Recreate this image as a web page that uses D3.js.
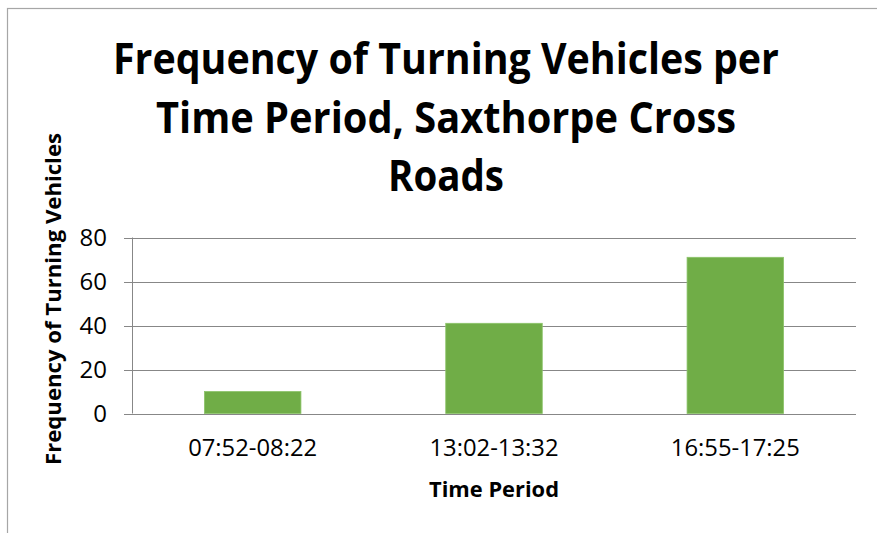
<!DOCTYPE html>
<html>
<head>
<meta charset="utf-8">
<script src="https://cdn.jsdelivr.net/npm/d3@7"></script>
<style>
  html, body { margin: 0; padding: 0; background: #fff; }
  svg { display: block; }
  text { font-family: "Open Sans", "Noto Sans", sans-serif; fill: #000; }
</style>
</head>
<body>
<svg id="chart" width="877" height="533"></svg>
<script>
// ---- data ----
const categories = ["07:52-08:22", "13:02-13:32", "16:55-17:25"];
const values = [10, 41, 71];
const yTicks = [0, 20, 40, 60, 80];
const titleLines = ["Frequency of Turning Vehicles per", "Time Period, Saxthorpe Cross", "Roads"];
const titleWidths = [666, 580, 116];
const xTitle = "Time Period";
const yTitle = "Frequency of Turning Vehicles";

// ---- layout ----
const plot = { left: 132, right: 856, top: 237.5, bottom: 413.5 };
const svg = d3.select("#chart");

// outer frame (cropped at right/bottom)
svg.append("rect")
  .attr("x", 7.5).attr("y", 8.5)
  .attr("width", 1000).attr("height", 1000)
  .attr("fill", "none").attr("stroke", "#A6A6A6").attr("stroke-width", 1.2);

const x = d3.scaleBand().domain(categories)
  .range([plot.left, plot.right]).paddingInner(0.6).paddingOuter(0.3);
const y = d3.scaleLinear().domain([0, 80]).range([plot.bottom, plot.top]);

// gridlines
svg.append("g").selectAll("line").data(yTicks).join("line")
  .attr("x1", plot.left - 8).attr("x2", plot.right)
  .attr("y1", d => Math.round(y(d)) + 0.5).attr("y2", d => Math.round(y(d)) + 0.5)
  .attr("stroke", "#878787").attr("stroke-width", 1);

// y axis line
svg.append("line")
  .attr("x1", plot.left + 0.5).attr("x2", plot.left + 0.5)
  .attr("y1", y(80)).attr("y2", y(0))
  .attr("stroke", "#878787").attr("stroke-width", 1);

// bars
svg.append("g").selectAll("rect").data(values).join("rect")
  .attr("x", (d, i) => x(categories[i]))
  .attr("y", d => y(d))
  .attr("width", x.bandwidth())
  .attr("height", d => y(0) - y(d))
  .attr("fill", "#70AD47")
  .attr("stroke", "#8CC46A").attr("stroke-width", 0.8);

// y tick labels
svg.append("g").selectAll("text").data(yTicks).join("text")
  .attr("x", 107).attr("y", d => y(d))
  .attr("dy", "0.36em")
  .attr("text-anchor", "end")
  .attr("font-size", 24)
  .text(d => d);

// x tick labels
svg.append("g").selectAll("text").data(categories).join("text")
  .attr("x", d => x(d) + x.bandwidth() / 2)
  .attr("y", 456)
  .attr("text-anchor", "middle")
  .attr("font-size", 24)
  .attr("textLength", 129).attr("lengthAdjust", "spacingAndGlyphs")
  .text(d => d);

// x axis title
svg.append("text")
  .attr("x", (plot.left + plot.right) / 2).attr("y", 496.5)
  .attr("text-anchor", "middle")
  .attr("font-size", 22).attr("font-weight", "bold")
  .attr("textLength", 130).attr("lengthAdjust", "spacingAndGlyphs")
  .text(xTitle);

// y axis title
svg.append("text")
  .attr("transform", "translate(61,299) rotate(-90)")
  .attr("text-anchor", "middle")
  .attr("font-size", 22).attr("font-weight", "bold")
  .attr("textLength", 332).attr("lengthAdjust", "spacingAndGlyphs")
  .text(yTitle);

// chart title
svg.append("g").selectAll("text").data(titleLines).join("text")
  .attr("x", 446)
  .attr("y", (d, i) => 74 + i * 58.5)
  .attr("text-anchor", "middle")
  .attr("font-size", 43).attr("font-weight", "bold")
  .attr("textLength", (d, i) => titleWidths[i]).attr("lengthAdjust", "spacingAndGlyphs")
  .text(d => d);
</script>
</body>
</html>
